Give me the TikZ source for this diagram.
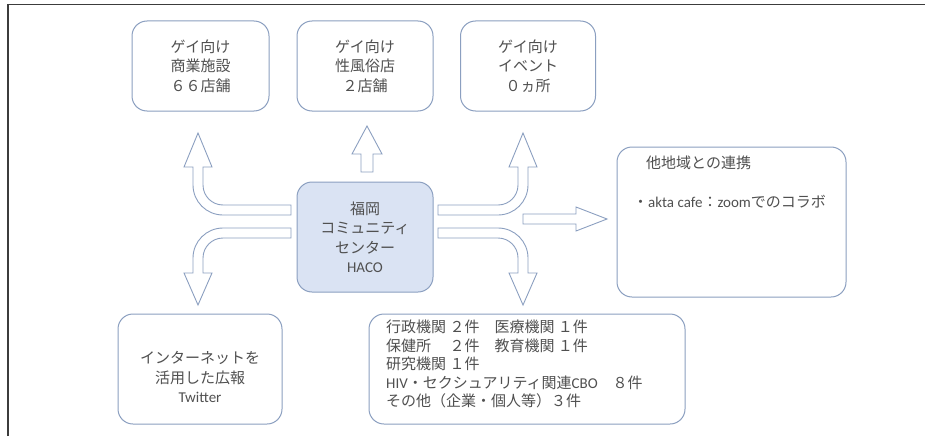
\documentclass[tikz,border=0pt]{standalone}
\usepackage{fontspec}
\setmainfont{Noto Sans CJK JP}
\newfontfamily\latfont{Carlito}
\newcommand{\eng}[1]{{\latfont #1}}
\usepackage{tikz}
\definecolor{hacoline}{RGB}{139,159,192}
\definecolor{hacofill}{RGB}{218,227,243}
\definecolor{hacotext}{RGB}{80,80,80}
\definecolor{hacoframe}{RGB}{60,60,60}

\tikzset{
  card/.style={draw=hacoline, line width=1pt, rounded corners=15pt, fill=white, inner sep=0pt},
  cardtext/.style={text=hacotext, align=center, inner sep=0pt, font=\fontsize{15}{19.5}\selectfont},
  hub/.style={card, fill=hacofill},
  bentarrow/.style={draw=hacoline, line width=0.9pt, fill=white, line join=miter}
}

\begin{document}
\begin{tikzpicture}[x=1pt, y=-1pt]
\useasboundingbox (0,0) rectangle (925,436);
% Frame
\draw[hacoframe, line width=1.5pt] (8,436) -- (8,4.5) -- (925,4.5);

% Top cards
\node[card, cardtext, minimum width=137pt, minimum height=90pt] (shops) at (200.5,66) {ゲイ向け\\商業施設\\６６店舗};
\node[card, cardtext, minimum width=136pt, minimum height=90pt] (sexshops) at (365,66) {ゲイ向け\\性風俗店\\２店舗};
\node[card, cardtext, minimum width=135pt, minimum height=90pt] (events) at (528,66) {ゲイ向け\\イベント\\０ヵ所};

% Centre
\node[hub, cardtext, minimum width=136pt, minimum height=110pt] (haco) at (365,237) {福岡\\コミュニティ\\センター\\\eng{HACO}};

% Other regions
\node[card, minimum width=229pt, minimum height=150pt] (regions) at (731.5,222) {};
\node[cardtext, anchor=west] (regionstitle) at (646,163) {他地域との連携};
\node[cardtext, anchor=west] (regionsitem) at (633,202) {・\eng{akta cafe}：\eng{zoom}でのコラボ};

% Bottom cards
\node[card, minimum width=164pt, minimum height=110pt] (web) at (200,369) {};
\node[cardtext] (webtext) at (200,377) {インターネットを\\活用した広報\\\eng{Twitter}};
\node[card, minimum width=316pt, minimum height=110pt] (partners) at (527,369) {};
\node[cardtext, align=left, anchor=west, font=\fontsize{15}{18.5}\selectfont] (partnerstext) at (386,364) {行政機関 ２件　医療機関 １件\\保健所　 ２件　教育機関 １件\\研究機関 １件\\\eng{HIV}・セクシュアリティ関連\eng{CBO}　８件\\その他（企業・個人等）３件};

% Arrows up
\draw[bentarrow] (291,205) -- (223,205) .. controls (211.95,205) and (203,196.05) .. (203,185) -- (203,167) -- (212,167) -- (198,133) -- (184,167) -- (193,167) -- (193,185) .. controls (193,201.57) and (206.43,215) .. (223,215) -- (291,215) -- cycle;
\draw[bentarrow] (361,172) -- (361,154) -- (352,154) -- (367,126) -- (382,154) -- (373,154) -- (373,172) -- cycle;
\draw[bentarrow] (438,205) -- (498,205) .. controls (509.05,205) and (518,196.05) .. (518,185) -- (518,167) -- (509,167) -- (523,133) -- (537,167) -- (528,167) -- (528,185) .. controls (528,201.57) and (514.57,215) .. (498,215) -- (438,215) -- cycle;

% Arrow right
\draw[bentarrow] (523,214) -- (576,214) -- (576,207) -- (607,219) -- (576,231) -- (576,224) -- (523,224) -- cycle;

% Arrows down
\draw[bentarrow] (291,238) -- (223,238) .. controls (211.95,238) and (203,246.95) .. (203,258) -- (203,273) -- (212,273) -- (198,305) -- (184,273) -- (193,273) -- (193,258) .. controls (193,241.43) and (206.43,228) .. (223,228) -- (291,228) -- cycle;
\draw[bentarrow] (438,238) -- (498,238) .. controls (509.05,238) and (518,246.95) .. (518,258) -- (518,273) -- (509,273) -- (523,305) -- (537,273) -- (528,273) -- (528,258) .. controls (528,241.43) and (514.57,228) .. (498,228) -- (438,228) -- cycle;
\end{tikzpicture}
\end{document}
